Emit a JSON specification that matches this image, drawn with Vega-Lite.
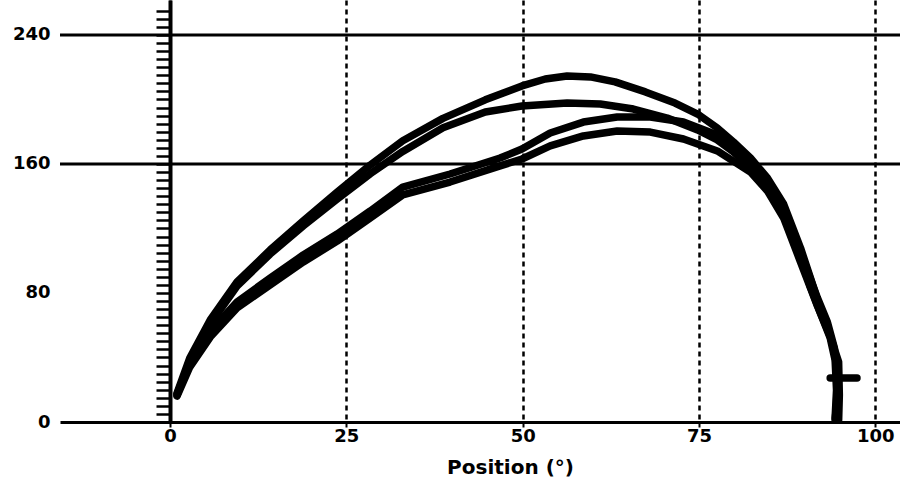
{
  "$schema": "https://vega.github.io/schema/vega-lite/v6.json",
  "width": 840,
  "height": 422,
  "autosize": {"type": "none"},
  "padding": {"left": 60, "top": 0, "right": 0, "bottom": 62},
  "background": "white",
  "config": {"view": {"stroke": null}},
  "data": {"values": [
    {"s":"A","i":1,"x":1.0,"y":18.0},{"s":"A","i":2,"x":2.8,"y":39.7},{"s":"A","i":3,"x":5.7,"y":63.3},{"s":"A","i":4,"x":9.5,"y":86.8},{"s":"A","i":5,"x":14.2,"y":106.7},{"s":"A","i":6,"x":18.9,"y":124.7},{"s":"A","i":7,"x":23.7,"y":142.6},{"s":"A","i":8,"x":28.4,"y":159.4},{"s":"A","i":9,"x":33.0,"y":174.4},{"s":"A","i":10,"x":38.7,"y":188.3},{"s":"A","i":11,"x":44.7,"y":199.8},{"s":"A","i":12,"x":49.9,"y":208.4},{"s":"A","i":13,"x":53.2,"y":212.7},{"s":"A","i":14,"x":56.3,"y":214.6},{"s":"A","i":15,"x":59.6,"y":214.0},{"s":"A","i":16,"x":63.1,"y":210.9},{"s":"A","i":17,"x":67.4,"y":204.7},{"s":"A","i":18,"x":71.6,"y":197.8},{"s":"A","i":19,"x":74.8,"y":191.0},{"s":"A","i":20,"x":77.6,"y":182.3},{"s":"A","i":21,"x":79.9,"y":173.6},{"s":"A","i":22,"x":82.3,"y":163.7},{"s":"A","i":23,"x":84.7,"y":151.3},{"s":"A","i":24,"x":87.0,"y":135.2},{"s":"A","i":25,"x":89.4,"y":107.9},{"s":"A","i":26,"x":90.8,"y":89.3},{"s":"A","i":27,"x":91.8,"y":75.7},{"s":"A","i":28,"x":92.9,"y":62.0},{"s":"A","i":29,"x":93.9,"y":49.0},
    {"s":"B","i":1,"x":1.0,"y":16.7},{"s":"B","i":2,"x":2.8,"y":37.8},{"s":"B","i":3,"x":5.7,"y":60.8},{"s":"B","i":4,"x":9.5,"y":84.3},{"s":"B","i":5,"x":14.2,"y":104.2},{"s":"B","i":6,"x":18.9,"y":121.6},{"s":"B","i":7,"x":23.7,"y":138.3},{"s":"B","i":8,"x":28.4,"y":154.0},{"s":"B","i":9,"x":33.0,"y":167.8},{"s":"B","i":10,"x":38.7,"y":182.5},{"s":"B","i":11,"x":44.7,"y":192.2},{"s":"B","i":12,"x":49.9,"y":196.0},{"s":"B","i":13,"x":56.3,"y":197.8},{"s":"B","i":14,"x":61.0,"y":197.2},{"s":"B","i":15,"x":65.7,"y":194.1},{"s":"B","i":16,"x":70.5,"y":188.5},{"s":"B","i":17,"x":74.8,"y":181.1},{"s":"B","i":18,"x":77.6,"y":174.9},{"s":"B","i":19,"x":79.9,"y":167.4},{"s":"B","i":20,"x":82.3,"y":157.5},{"s":"B","i":21,"x":84.7,"y":145.1},{"s":"B","i":22,"x":87.0,"y":129.0},{"s":"B","i":23,"x":89.4,"y":102.9},{"s":"B","i":24,"x":90.8,"y":83.7},{"s":"B","i":25,"x":92.2,"y":67.6},{"s":"B","i":26,"x":93.6,"y":52.1},{"s":"B","i":27,"x":94.3,"y":38.4},{"s":"B","i":28,"x":94.5,"y":19.8},{"s":"B","i":29,"x":94.3,"y":2.5},
    {"s":"C","i":1,"x":1.0,"y":17.4},{"s":"C","i":2,"x":2.8,"y":36.6},{"s":"C","i":3,"x":5.7,"y":56.4},{"s":"C","i":4,"x":9.5,"y":74.4},{"s":"C","i":5,"x":14.2,"y":89.3},{"s":"C","i":6,"x":18.9,"y":103.6},{"s":"C","i":7,"x":23.7,"y":116.6},{"s":"C","i":8,"x":28.4,"y":130.9},{"s":"C","i":9,"x":33.0,"y":145.7},{"s":"C","i":10,"x":39.7,"y":153.8},{"s":"C","i":11,"x":46.8,"y":163.7},{"s":"C","i":12,"x":49.9,"y":169.3},{"s":"C","i":13,"x":53.9,"y":179.2},{"s":"C","i":14,"x":58.6,"y":186.0},{"s":"C","i":15,"x":63.4,"y":189.1},{"s":"C","i":16,"x":68.1,"y":189.1},{"s":"C","i":17,"x":72.8,"y":186.0},{"s":"C","i":18,"x":77.6,"y":178.0},{"s":"C","i":19,"x":82.3,"y":160.6},{"s":"C","i":20,"x":84.7,"y":148.8},{"s":"C","i":21,"x":87.0,"y":132.7},{"s":"C","i":22,"x":89.4,"y":105.4},{"s":"C","i":23,"x":91.8,"y":76.9},{"s":"C","i":24,"x":93.2,"y":62.0},{"s":"C","i":25,"x":94.2,"y":45.9},{"s":"C","i":26,"x":94.6,"y":27.3},{"s":"C","i":27,"x":94.5,"y":10.5},{"s":"C","i":28,"x":94.3,"y":1.2},
    {"s":"D","i":1,"x":1.0,"y":16.1},{"s":"D","i":2,"x":2.8,"y":34.1},{"s":"D","i":3,"x":5.7,"y":52.7},{"s":"D","i":4,"x":9.5,"y":70.7},{"s":"D","i":5,"x":14.2,"y":85.0},{"s":"D","i":6,"x":18.9,"y":99.2},{"s":"D","i":7,"x":23.7,"y":112.2},{"s":"D","i":8,"x":28.4,"y":126.5},{"s":"D","i":9,"x":33.0,"y":140.8},{"s":"D","i":10,"x":39.7,"y":148.8},{"s":"D","i":11,"x":46.8,"y":158.8},{"s":"D","i":12,"x":49.9,"y":163.1},{"s":"D","i":13,"x":53.9,"y":171.2},{"s":"D","i":14,"x":58.6,"y":177.4},{"s":"D","i":15,"x":63.4,"y":180.5},{"s":"D","i":16,"x":68.1,"y":179.8},{"s":"D","i":17,"x":72.8,"y":175.5},{"s":"D","i":18,"x":77.6,"y":168.1},{"s":"D","i":19,"x":82.3,"y":155.0},{"s":"D","i":20,"x":84.7,"y":143.3},{"s":"D","i":21,"x":87.0,"y":126.5},{"s":"D","i":22,"x":89.4,"y":99.2},{"s":"D","i":23,"x":91.8,"y":71.9},{"s":"D","i":24,"x":93.6,"y":53.3},{"s":"D","i":25,"x":94.8,"y":37.2},{"s":"D","i":26,"x":94.9,"y":16.7},{"s":"D","i":27,"x":94.8,"y":1.2},
    {"s":"E","i":1,"x":93.6,"y":27.3},{"s":"E","i":2,"x":97.4,"y":27.3}
  ]},
  "encoding": {
    "y": {
      "field": "y", "type": "quantitative",
      "scale": {"domain": [0, 261.7], "nice": false, "zero": false},
      "axis": {
        "values": [0,5,10,15,20,25,30,35,40,45,50,55,60,65,70,75,80,85,90,95,100,105,110,115,120,125,130,135,140,145,150,155,160,165,170,175,180,185,190,195,200,205,210,215,220,225,230,235,240,245,250,255],
        "offset": -110,
        "domain": true, "domainWidth": 4, "domainColor": "black",
        "ticks": true, "tickSize": 14, "tickWidth": 2.5, "tickColor": "black",
        "labelExpr": "datum.value % 80 == 0 ? datum.label : ''",
        "labelOverlap": false, "labelFlush": false,
        "labelPadding": 106,
        "labelFont": "DejaVu Sans", "labelFontWeight": "bold", "labelFontSize": 18, "labelColor": "black",
        "grid": false, "title": null
      }
    }
  },
  "layer": [
    {
      "data": {"values": [{"y": 160}, {"y": 240}]},
      "mark": {"type": "rule", "color": "black", "strokeWidth": 3}
    },
    {
      "mark": {"type": "line", "color": "black", "strokeWidth": 7.5, "strokeCap": "round", "strokeJoin": "round"},
      "encoding": {
        "x": {
          "field": "x", "type": "quantitative",
          "scale": {"domain": [-15.6, 103.5], "nice": false, "zero": false},
          "axis": {
            "values": [0, 25, 50, 75, 100],
            "grid": true, "gridDash": [5, 4], "gridWidth": 2.5, "gridColor": "black",
            "domain": true, "domainWidth": 3, "domainColor": "black",
            "ticks": true, "tickSize": 5, "tickWidth": 2, "tickColor": "black",
            "labelFont": "DejaVu Sans", "labelFontWeight": "bold", "labelFontSize": 18, "labelColor": "black", "labelPadding": 0,
            "labelOverlap": false, "labelFlush": false,
            "title": "Position (°)",
            "titleFont": "DejaVu Sans", "titleFontWeight": "bold", "titleFontSize": 20, "titleColor": "black",
            "titleX": 450, "titleY": 45, "titleBaseline": "middle", "titleAlign": "center"
          }
        },
        "detail": {"field": "s", "type": "nominal"},
        "order": {"field": "i", "type": "quantitative"}
      }
    }
  ]
}
